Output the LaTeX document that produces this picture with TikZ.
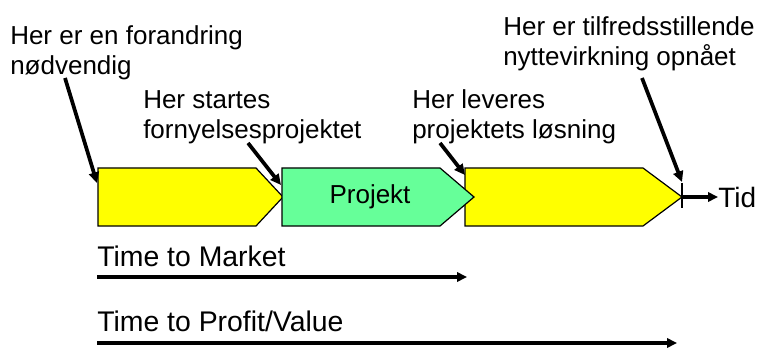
\documentclass[tikz,border=0pt]{standalone}
\usepackage{fontspec}
\setmainfont{Liberation Sans}
\usetikzlibrary{arrows.meta}
\definecolor{phaseyellow}{HTML}{FFFF00}
\definecolor{phasegreen}{HTML}{66FF99}

\begin{document}
\begin{tikzpicture}[x=0.75pt,y=-0.75pt]
        \def\phasetop{168}
        \def\phasebot{226}
        \def\phasemid{197}
        \tikzstyle{phase}=[draw=black, line width=0.9pt]
        \tikzstyle{annot}=[inner sep=0pt, font=\fontsize{19.5}{22.5}\selectfont]
        \tikzstyle{callout}=[annot, anchor=north west, align=left]
        \tikzstyle{spanlabel}=[annot, anchor=base west, font=\fontsize{21.3}{24}\selectfont]
        \tikzstyle{leader}=[-{Triangle[length=8pt,width=7.5pt]}, line width=2.8pt]
        \tikzstyle{span}=[-{Triangle[length=7.5pt,width=7pt]}, line width=2.6pt]

        \useasboundingbox (0,0) rectangle (760,349);

        % phases
        \draw[phase, fill=phaseyellow] (98,\phasetop) -- (256,\phasetop) -- (283,\phasemid) -- (256,\phasebot) -- (98,\phasebot) -- cycle;
        \draw[phase, fill=phaseyellow] (465,\phasetop) -- (643,\phasetop) -- (682,\phasemid) -- (643,\phasebot) -- (465,\phasebot) -- cycle;
        \draw[phase, fill=phasegreen] (282,\phasetop) -- (440,\phasetop) -- (474,\phasemid) -- (440,\phasebot) -- (282,\phasebot) -- cycle;
        \node[annot] (projekt) at (370,\phasemid) {Projekt};

        \coordinate (P1-in) at (97,183);
        \coordinate (P2-in) at (281,185);
        \coordinate (P3-in) at (465,175);
        \coordinate (P3-out) at (682,182);

        % time axis
        \coordinate (tick) at (682,\phasemid);
        \draw[line width=1.1pt] (682,183) -- (682,208);
        \node[annot, anchor=west, font=\fontsize{21}{24}\selectfont] (tid) at (718,\phasemid) {Tid};
        \draw[span] (tick) -- (tid);

        % callouts
        \node[callout] (forandring) at (10,25) {Her er en forandring\\nødvendig};
        \node[callout] (startes) at (143,90) {Her startes\\fornyelsesprojektet};
        \node[callout] (leveres) at (412,89) {Her leveres\\projektets løsning};
        \node[callout] (opnaaet) at (503,16) {Her er tilfredsstillende\\nyttevirkning opnået};

        \coordinate (forandring-foot) at (65,78);
        \coordinate (startes-foot) at (248,143);
        \coordinate (leveres-foot) at (440,143);
        \coordinate (opnaaet-foot) at (642,78);

        \draw[leader] (forandring-foot) -- (P1-in);
        \draw[leader] (startes-foot) -- (P2-in);
        \draw[leader] (leveres-foot) -- (P3-in);
        \draw[leader] (opnaaet-foot) -- (P3-out);

        % spans
        \node[spanlabel] (ttm) at (97,266) {Time to Market};
        \node[spanlabel] (ttp) at (97,331) {Time to Profit/Value};
        \coordinate (ttm-start) at (97,277);
        \coordinate (ttm-end) at (467,277);
        \coordinate (ttp-start) at (97,343);
        \coordinate (ttp-end) at (677,343);
        \draw[span] (ttm-start) -- (ttm-end);
        \draw[span] (ttp-start) -- (ttp-end);
\end{tikzpicture}
\end{document}
